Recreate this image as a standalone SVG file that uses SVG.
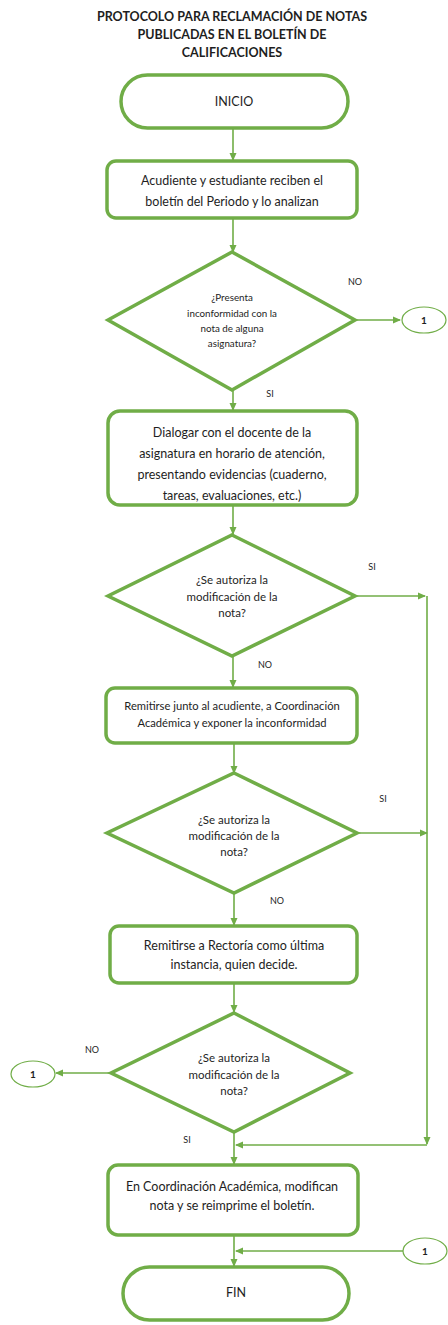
<svg xmlns="http://www.w3.org/2000/svg" width="448" height="1325" viewBox="0 0 448 1325">
<style>
.shape{fill:#fff;stroke:#70AD47;stroke-width:3.5}
.conn{fill:#fff;stroke:#70AD47;stroke-width:1.2}
.line{fill:none;stroke:#70AD47;stroke-width:1.6}
.t{font-family:Lato,"Open Sans","Liberation Sans",sans-serif;fill:#1e1e1e;text-anchor:middle}
.title{font-size:12.5px;font-weight:bold}
.bx{font-size:12.5px}
.bxs{font-size:11.2px}
.dm{font-size:11.5px}
.dm1{font-size:9.8px}
.lb{font-size:9px}
.c1{font-size:10px;font-weight:bold}
</style>
<defs>
<marker id="ah" markerWidth="8" markerHeight="8" refX="7" refY="4" orient="auto" markerUnits="userSpaceOnUse">
<path d="M0,0.5 L8,4 L0,7.5 Z" fill="#70AD47"/>
</marker>
</defs>
<rect width="448" height="1325" fill="#fff"/>
<g id="title">
<text class="t title" x="232" y="21">PROTOCOLO PARA RECLAMACIÓN DE NOTAS</text>
<text class="t title" x="232" y="39">PUBLICADAS EN EL BOLETÍN DE</text>
<text class="t title" x="232" y="57">CALIFICACIONES</text>
</g>
<g id="connectors">
<line class="line" x1="233" y1="128" x2="233" y2="160" marker-end="url(#ah)"/>
<line class="line" x1="233" y1="219" x2="233" y2="252" marker-end="url(#ah)"/>
<line class="line" x1="355" y1="320" x2="400" y2="320" marker-end="url(#ah)"/>
<line class="line" x1="233" y1="390" x2="233" y2="410" marker-end="url(#ah)"/>
<line class="line" x1="233" y1="506" x2="233" y2="534" marker-end="url(#ah)"/>
<line class="line" x1="355" y1="596" x2="425" y2="596" marker-end="url(#ah)"/>
<line class="line" x1="233" y1="656" x2="233" y2="687" marker-end="url(#ah)"/>
<line class="line" x1="234" y1="743" x2="234" y2="773" marker-end="url(#ah)"/>
<line class="line" x1="355" y1="833" x2="427" y2="833" marker-end="url(#ah)"/>
<line class="line" x1="234" y1="893" x2="234" y2="925" marker-end="url(#ah)"/>
<line class="line" x1="234" y1="984" x2="234" y2="1012" marker-end="url(#ah)"/>
<line class="line" x1="111" y1="1073" x2="56" y2="1073" marker-end="url(#ah)"/>
<line class="line" x1="234" y1="1133" x2="234" y2="1164" marker-end="url(#ah)"/>
<line class="line" x1="427" y1="596" x2="427" y2="1144" marker-end="url(#ah)"/>
<line class="line" x1="427" y1="1145" x2="236" y2="1145" marker-end="url(#ah)"/>
<line class="line" x1="234" y1="1236" x2="234" y2="1266" marker-end="url(#ah)"/>
<line class="line" x1="403" y1="1251" x2="236" y2="1251" marker-end="url(#ah)"/>
<text class="t lb" x="355" y="285">NO</text>
<text class="t lb" x="270" y="397">SI</text>
<text class="t lb" x="372" y="570">SI</text>
<text class="t lb" x="265" y="668">NO</text>
<text class="t lb" x="383" y="802">SI</text>
<text class="t lb" x="277" y="904">NO</text>
<text class="t lb" x="92" y="1053">NO</text>
<text class="t lb" x="187" y="1143">SI</text>
</g>
<g id="inicio">
<rect class="shape" x="121" y="75" width="227" height="53" rx="26.5"/>
<text class="t bx" x="234" y="106">INICIO</text>
</g>
<g id="recibir">
<rect class="shape" x="107" y="161" width="250" height="57" rx="9"/>
<text class="t bx" x="232" y="185">Acudiente y estudiante reciben el</text>
<text class="t bx" x="232" y="206">boletín del Periodo y lo analizan</text>
</g>
<g id="decision1">
<polygon class="shape" points="232,252 355,320 232,390 108,320"/>
<text class="t dm1" x="232" y="301">¿Presenta</text>
<text class="t dm1" x="232" y="317">inconformidad con la</text>
<text class="t dm1" x="232" y="332">nota de alguna</text>
<text class="t dm1" x="232" y="347">asignatura?</text>
</g>
<g id="conector1a">
<ellipse class="conn" cx="424" cy="320" rx="22" ry="13"/>
<text class="t c1" x="424" y="324">1</text>
</g>
<g id="dialogar">
<rect class="shape" x="108" y="411" width="249" height="94" rx="12"/>
<text class="t bx" x="232" y="437">Dialogar con el docente de la</text>
<text class="t bx" x="232" y="458">asignatura en horario de atención,</text>
<text class="t bx" x="232" y="479">presentando evidencias (cuaderno,</text>
<text class="t bx" x="232" y="500">tareas, evaluaciones, etc.)</text>
</g>
<g id="decision2">
<polygon class="shape" points="232,535 355,596 232,656 108,596"/>
<text class="t dm" x="232" y="584">¿Se autoriza la</text>
<text class="t dm" x="232" y="601">modificación de la</text>
<text class="t dm" x="232" y="617">nota?</text>
</g>
<g id="coordinacion">
<rect class="shape" x="106" y="688" width="251" height="55" rx="9"/>
<text class="t bxs" x="232" y="710">Remitirse junto al acudiente, a Coordinación</text>
<text class="t bxs" x="232" y="727">Académica y exponer la inconformidad</text>
</g>
<g id="decision3">
<polygon class="shape" points="234,773 357,833 234,893 107,833"/>
<text class="t dm" x="234" y="824">¿Se autoriza la</text>
<text class="t dm" x="234" y="840">modificación de la</text>
<text class="t dm" x="234" y="856">nota?</text>
</g>
<g id="rectoria">
<rect class="shape" x="110" y="926" width="247" height="57" rx="9"/>
<text class="t bx" x="234" y="950">Remitirse a Rectoría como última</text>
<text class="t bx" x="234" y="969">instancia, quien decide.</text>
</g>
<g id="decision4">
<polygon class="shape" points="234,1013 350,1073 234,1132 111,1073"/>
<text class="t dm" x="234" y="1062">¿Se autoriza la</text>
<text class="t dm" x="234" y="1079">modificación de la</text>
<text class="t dm" x="234" y="1095">nota?</text>
</g>
<g id="conector1b">
<ellipse class="conn" cx="33" cy="1074" rx="22" ry="13"/>
<text class="t c1" x="33" y="1078">1</text>
</g>
<g id="modificar">
<rect class="shape" x="108" y="1165" width="250" height="70" rx="10"/>
<text class="t bx" x="232" y="1191">En Coordinación Académica, modifican</text>
<text class="t bx" x="232" y="1210">nota y se reimprime el boletín.</text>
</g>
<g id="conector1c">
<ellipse class="conn" cx="425" cy="1251" rx="22" ry="13"/>
<text class="t c1" x="425" y="1255">1</text>
</g>
<g id="fin">
<rect class="shape" x="123" y="1267" width="226" height="53" rx="26.5"/>
<text class="t bx" x="236" y="1297">FIN</text>
</g>
</svg>
